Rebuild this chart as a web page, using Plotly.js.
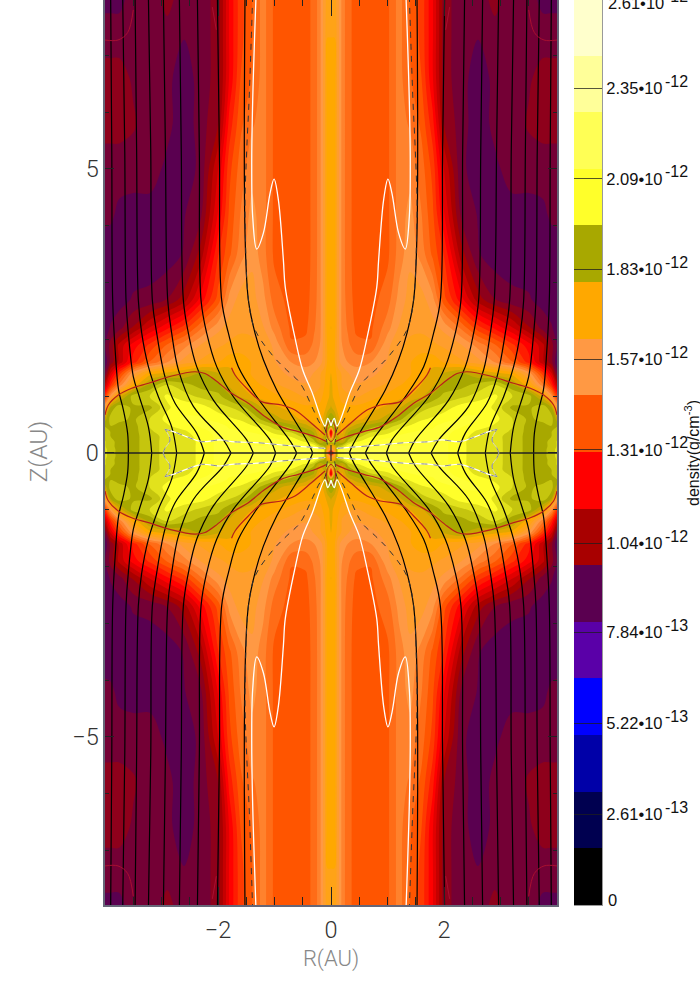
<!DOCTYPE html>
<html>
<head>
<meta charset="utf-8">
<script src="https://cdn.plot.ly/plotly-3.0.1.min.js"></script>
<style>
html, body { margin: 0; padding: 0; background: #fff; overflow: hidden; }
#chart { position: absolute; left: 0; top: -2px; width: 700px; height: 986px; }
</style>
</head>
<body>
<div id="chart"></div>
<script>
// density, units of 1e-12 g/cm3, one quadrant (R>=0, Z>=0)
const rGrid = [0,.06,.12,.2,.3,.45,.7,1,1.2,1.4,1.6,1.8,2,2.3,2.6,2.9,3.2,3.5,3.75,3.9,4]
const zGrid = [0,.06,.12,.2,.3,.38,.47,.6,.8,1,1.2,1.4,1.6,1.9,2.2,2.7,3.5,4.2,5,5.8,6.6,7.4,8.05]
const density = [
 [1.1,1.5,2.0,2.1,2.15,2.16,2.16,2.14,2.12,2.12,2.1,2.1,2.08,2.02,1.99,1.97,1.94,1.88,1.88,1.93,1.97],
 [1.5,1.65,2.0,2.1,2.15,2.16,2.16,2.14,2.12,2.12,2.1,2.1,2.08,2.02,1.99,1.97,1.94,1.88,1.88,1.93,1.97],
 [1.72,1.75,1.9,1.95,2.05,2.1,2.14,2.14,2.12,2.12,2.1,2.1,2.08,2.02,1.99,1.97,1.94,1.88,1.88,1.92,1.96],
 [1.9,2.0,1.85,1.8,1.92,2.0,2.06,2.1,2.1,2.1,2.1,2.1,2.08,2.02,1.99,1.97,1.94,1.88,1.88,1.92,1.96],
 [1.2,1.92,1.8,1.76,1.86,1.92,2.0,2.04,2.07,2.08,2.08,2.08,2.08,2.03,1.99,1.97,1.94,1.88,1.88,1.9,1.94],
 [1.08,1.85,1.78,1.72,1.84,1.88,1.94,1.98,2.04,2.06,2.07,2.07,2.08,2.05,2.0,1.98,1.95,1.88,1.88,1.9,1.92],
 [1.88,1.92,1.8,1.7,1.76,1.82,1.88,1.93,1.98,2.02,2.05,2.06,2.08,2.07,2.04,2.0,1.96,1.88,1.88,1.9,1.9],
 [1.9,1.86,1.76,1.7,1.7,1.72,1.76,1.82,1.88,1.95,2.0,2.02,2.05,2.07,2.07,2.03,1.96,1.89,1.92,1.93,1.82],
 [1.8,1.76,1.72,1.7,1.7,1.7,1.72,1.75,1.78,1.86,1.93,1.96,1.98,2.04,2.05,2.0,1.89,1.89,1.94,1.86,1.6],
 [1.76,1.72,1.7,1.66,1.64,1.62,1.66,1.7,1.72,1.74,1.78,1.86,1.92,1.94,1.98,2.02,1.96,1.93,1.76,1.55,1.32],
 [1.75,1.72,1.68,1.62,1.6,1.58,1.6,1.64,1.68,1.7,1.74,1.78,1.86,1.88,1.92,1.96,1.86,1.7,1.48,1.3,1.1],
 [1.74,1.72,1.66,1.62,1.58,1.55,1.56,1.6,1.65,1.68,1.72,1.76,1.8,1.86,1.8,1.76,1.72,1.56,1.33,1.15,.95],
 [1.72,1.7,1.6,1.55,1.52,1.5,1.52,1.58,1.63,1.68,1.72,1.72,1.68,1.64,1.6,1.52,1.42,1.28,1.1,1.0,.88],
 [1.72,1.7,1.6,1.52,1.48,1.43,1.42,1.56,1.62,1.64,1.65,1.64,1.62,1.58,1.5,1.42,1.32,1.22,1.1,1.0,.92],
 [1.74,1.72,1.6,1.5,1.46,1.40,1.40,1.5,1.58,1.62,1.62,1.6,1.56,1.46,1.33,1.24,1.15,1.04,.96,.93,.9],
 [1.72,1.72,1.6,1.5,1.44,1.39,1.39,1.44,1.54,1.6,1.6,1.54,1.38,1.22,1.06,.98,.94,.93,.9,.89,.89],
 [1.72,1.72,1.6,1.5,1.43,1.39,1.38,1.40,1.49,1.56,1.5,1.4,1.3,1.06,.93,.89,.89,.89,.89,.89,.89],
 [1.72,1.72,1.6,1.5,1.43,1.39,1.38,1.40,1.49,1.54,1.47,1.37,1.2,.97,.92,.89,.9,.9,.91,.935,.94],
 [1.72,1.72,1.6,1.5,1.43,1.39,1.38,1.40,1.49,1.5,1.44,1.34,1.14,.94,.89,.91,.95,.95,.95,.95,.95],
 [1.72,1.72,1.6,1.5,1.43,1.39,1.38,1.40,1.49,1.46,1.4,1.27,1.03,.95,.89,.94,.95,.985,1.0,1.0,1.0],
 [1.72,1.72,1.6,1.5,1.43,1.39,1.38,1.40,1.49,1.42,1.36,1.2,1.0,.95,.89,.94,.95,.97,1.0,1.0,1.0],
 [1.68,1.68,1.6,1.5,1.43,1.39,1.38,1.40,1.49,1.41,1.34,1.2,1.0,.95,.93,.96,.95,.95,.95,.95,.95],
 [1.66,1.66,1.6,1.5,1.43,1.39,1.38,1.40,1.49,1.41,1.34,1.2,1.0,.95,.95,1.0,.95,.95,.9,.9,.9]
]

// colour bar
const barColors = ['#000000','#000050','#0000a8','#0000ff','#5a00a8','#5a0050','#a80000','#ff0000',
  '#ff5500','#ff9944','#ffa800','#a8a800','#ffff2a','#ffff55','#ffff99','#ffffcc']
const barMids = [.0815,.2445,.4075,.5705,.7335,.8965,1.0595,1.2225,1.3855,1.5485,1.7115,1.8745,2.0375,2.2005,2.3635,2.5265]
const barTicks = [.261,.522,.784,1.04,1.31,1.57,1.83,2.09,2.35]
const barLabels = ['2.61•10','5.22•10','7.84•10','1.04•10','1.31•10','1.57•10','1.83•10','2.09•10','2.35•10']
const barExps = ['-13','-13','-13','-12','-12','-12','-12','-12','-12']

// field lines, top left quadrant
const fieldR = [
 [3.90,3.88,3.864,3.82,3.76,3.675,3.60,3.587],
 [3.687,3.65,3.628,3.587,3.498,3.392,3.232,3.173],
 [3.468,3.44,3.41,3.35,3.232,3.055,2.82,2.731],
 [3.232,3.19,3.162,3.085,2.938,2.76,2.377,2.241],
 [2.967,2.93,2.89,2.82,2.70,2.436,1.905,1.769],
 [2.684,2.65,2.613,2.524,2.377,2.082,1.492,1.374],
 [2.365,2.33,2.30,2.2,2.023,1.728,1.079,.979],
 [2.011,1.975,1.935,1.816,1.64,1.315,.696,.607],
 [1.522,1.522,1.462,1.345,1.197,.961,.4,.324]
]
const fieldZ = [
 [8.05,5.3,2.69,1.81,1.11,.76,.35,0],
 [8.05,5.3,2.69,2.11,1.34,.99,.46,0],
 [8.05,5.3,2.69,2.11,1.52,.99,.46,0],
 [8.05,5.3,2.69,2.11,1.34,.875,.35,0],
 [8.05,5.3,2.69,2.11,1.46,.82,.23,0],
 [8.05,5.3,2.69,2.11,1.52,.93,.23,0],
 [8.05,5.3,2.69,2.11,1.52,.99,.23,0],
 [8.05,5.3,2.69,2.11,1.52,.99,.17,0],
 [8.05,3.87,2.69,2.11,1.64,1.11,.17,0]
]
const midR = [-4,4]
const midZ = [0,0]
const coreR = [0,0]
const coreZ = [-.14,.14]

const whiteR = [1.327,1.386,1.403,1.386,1.315,1.197,1.079,1.008,.932,.843,.81,.64,.5,.34,.106,.058,0]
const whiteZ = [8.05,6.2,5.04,4.16,3.59,3.87,4.57,4.82,4.46,3.4,2.92,2.04,1.46,1.08,.475,.61,.48]
const loopR = [2.97,2.94,2.85,2.938]
const loopZ = [0,.08,.23,.417]
const diskR = [2.938,2.79,2.525,2.29,1.96,1.757,1.29,.87,.34,.1]
const diskZ = [.417,.376,.275,.2,.229,.2,.18,.14,.1,.08]

const dashR = [1.386,1.451,1.492,1.522,1.516,1.462,1.345,1.02,.784,.548,.312,.194,.12,.09,.07,.03]
const dashZ = [8.05,6.2,5.33,4.45,3.87,2.69,2.17,1.7,1.46,1.23,.76,.52,.45,.37,.18,.05]

const red1R = [4,3.94,3.764,3.528,3.23,2.82,2.41,2.23,2.053,1.758,1.463,1.168,.873,.578,.283,.076]
const red1Z = [.67,.845,1.02,1.14,1.227,1.355,1.43,1.4,1.285,1.05,.875,.64,.46,.376,.29,.2]
const red2R = [1.76,1.699,1.463,1.227,.873,.637,.342,.106]
const red2Z = [1.5,1.373,1.109,.904,.845,.757,.52,.317]
const red3R = [0,.05,.08,.07,.03,0]
const red3Z = [.57,.52,.42,.3,.22,.2]
const red4R = [3.5,3.6,3.77,4]
const red4Z = [7.8,7.4,7.27,7.27]
const red5R = [2.1,2.03]
const red5Z = [7.85,7.45]

function mirrorGrid(rows) {
  const full = r => r.slice(1).reverse().concat(r)
  const half = rows.map(full)
  return half.slice(1).reverse().concat(half)
}
const signedAxis = a => a.slice(1).reverse().map(v => -v).concat(a)

// one quadrant path repeated in the four quadrants, gaps between
function fourfold(rs, zs) {
  const x = [], y = []
  ;[[-1,1],[1,1],[-1,-1],[1,-1]].forEach(s => {
    rs.forEach((r, i) => { x.push(s[0]*r); y.push(s[1]*zs[i]) })
    x.push(null); y.push(null)
  })
  return {x, y}
}
function lineTrace(rs, zs, color, width, dash) {
  const p = fourfold(rs, zs)
  return {x: p.x, y: p.y, type: 'scatter', mode: 'lines', hoverinfo: 'skip', showlegend: false,
    line: {color: color, width: width, dash: dash || 'solid', shape: 'spline', smoothing: 1}}
}

const zTop = 2.608
const colorscale = [[0, barColors[0]]].concat(barMids.map((m, i) => [m/zTop, barColors[i]])).concat([[1, barColors[15]]])

const traces = [{
  type: 'contour', x: signedAxis(rGrid), y: signedAxis(zGrid), z: mirrorGrid(density),
  zmin: 0, zmax: zTop, colorscale: colorscale, showscale: false, hoverinfo: 'skip',
  autocontour: false, contours: {start: 0, end: zTop, size: .163/3, coloring: 'fill', showlines: false},
  line: {width: 0, smoothing: 1}
}]
fieldR.forEach((r, i) => traces.push(lineTrace(r, fieldZ[i], '#000', 1.2)))
traces.push({x: midR, y: midZ, type: 'scatter', mode: 'lines', hoverinfo: 'skip', showlegend: false, line: {color: '#222', width: 1.3}})
traces.push({x: coreR, y: coreZ, type: 'scatter', mode: 'lines', hoverinfo: 'skip', showlegend: false, line: {color: '#333', width: 1.2}})
traces.push(lineTrace(red1R, red1Z, '#b8201a', 1.2))
traces.push(lineTrace(red2R, red2Z, '#b8201a', 1.2))
traces.push(lineTrace(red3R, red3Z, '#b8201a', 1))
traces.push(lineTrace(red4R, red4Z, '#a81030', 1))
traces.push(lineTrace(red5R, red5Z, '#a81030', 1))
traces.push(lineTrace(whiteR, whiteZ, '#fff', 1.3))
traces.push(lineTrace(loopR, loopZ, '#d8d8c8', 1))
traces.push(lineTrace(diskR, diskZ, '#fff', 1.2))
traces.push(lineTrace(loopR, loopZ, '#8a8a8a', 1, '6px,6px'))
traces.push(lineTrace(diskR, diskZ, '#8a8a8a', 1, '6px,6px'))
traces.push(lineTrace(dashR, dashZ, '#333', 1, '6px,6px'))

// colour bar as its own heatmap
traces.push({
  type: 'heatmap', xaxis: 'x2', yaxis: 'y2', x: [.5], dx: 1, y: barMids, z: barMids.map(v => [v]),
  zmin: 0, zmax: zTop, colorscale: colorscale, showscale: false, hoverinfo: 'skip'
})

const tickFont = {family: 'Roboto', weight: 300, size: 23.5, color: '#333'}
const titleFont = {family: 'Roboto', weight: 300, size: 22, color: '#888'}
const zTitleFont = {family: 'Roboto', weight: 300, size: 24.5, color: '#888'}
const barFont = {family: 'Liberation Sans', size: 16.5, color: '#111'}
const expFont = {family: 'Liberation Sans', size: 16, color: '#111'}

const bottomFrac = (986 - 907) / 986
const pageY = y => (984 - y) / 986

const barAnnotations = barTicks.map((t, i) => ({
  text: barExps[i], xref: 'paper', yref: 'y2', x: 663/700, y: t, yshift: 7,
  xanchor: 'left', yanchor: 'middle', showarrow: false, font: expFont
}))

const layout = {
  width: 700, height: 986, margin: {l: 0, r: 0, t: 0, b: 0},
  paper_bgcolor: '#fff', plot_bgcolor: '#fff', showlegend: false,
  xaxis: {
    domain: [105/700, 557/700], range: [-4, 4], tickmode: 'array', tickvals: [-2, 0, 2],
    ticks: 'inside', ticklen: 18, tickwidth: 1, tickcolor: '#222', mirror: 'allticks', ticklabelstandoff: 3,
    showline: true, linecolor: '#667', linewidth: 1.6, showgrid: false, zeroline: false,
    tickfont: tickFont, minor: {tickvals: [-3.5,-3,-2.5,-1.5,-1,-.5,.5,1,1.5,2.5,3,3.5,-4,4], ticks: 'inside', ticklen: 8, tickwidth: 1, tickcolor: '#222', showgrid: false},
    title: {text: 'R(AU)', font: titleFont, standoff: 8}
  },
  yaxis: {
    domain: [bottomFrac, 1], range: [-7.958, 8.01], tickmode: 'array', tickvals: [-5, 0, 5],
    ticks: 'inside', ticklen: 9, tickwidth: 1, tickcolor: '#222', mirror: 'allticks',
    showline: true, linecolor: '#667', linewidth: 1.6, showgrid: false, zeroline: false,
    tickfont: tickFont, minor: {tickvals: [-7,-6,-4,-3,-2,-1,1,2,3,4,6,7], ticks: 'inside', ticklen: 4, tickwidth: 1, tickcolor: '#222', showgrid: false},
    title: {text: 'Z(AU)', font: zTitleFont, standoff: 17}
  },
  xaxis2: {domain: [574/700, 602/700], range: [0, 1], anchor: 'y2', showticklabels: false, ticks: '', showgrid: false, zeroline: false, mirror: true, showline: true, linecolor: '#999', linewidth: 1},
  yaxis2: {
    domain: [bottomFrac, 1], range: [0, 907/347.4], anchor: 'x2', side: 'right',
    tickmode: 'array', tickvals: barTicks, ticktext: barLabels, tickfont: barFont,
    ticks: 'inside', ticklen: 28, tickwidth: 1, tickcolor: 'rgba(30,30,30,.75)',
    showgrid: false, zeroline: false, showline: true, linecolor: '#999', linewidth: 1
  },
  annotations: barAnnotations.concat([
    {text: '0', xref: 'paper', yref: 'paper', x: 606/700, y: pageY(900), xanchor: 'left', yanchor: 'middle', showarrow: false, font: barFont},
    {text: '2.61•10', xref: 'paper', yref: 'paper', x: 606/700, y: pageY(3.5), xanchor: 'left', yanchor: 'middle', showarrow: false, font: barFont},
    {text: '-12', xref: 'paper', yref: 'paper', x: 663/700, y: pageY(-3.5), xanchor: 'left', yanchor: 'middle', showarrow: false, font: expFont},
    {text: 'density(g/cm<sup>-3</sup>)', xref: 'paper', yref: 'paper', x: 692/700, y: pageY(453), xanchor: 'center', yanchor: 'middle', textangle: -90, showarrow: false, font: {family: 'Liberation Sans', size: 16, color: '#111'}}
  ])
}
Plotly.newPlot('chart', traces, layout, {staticPlot: true, displayModeBar: false})
</script>
</body>
</html>
